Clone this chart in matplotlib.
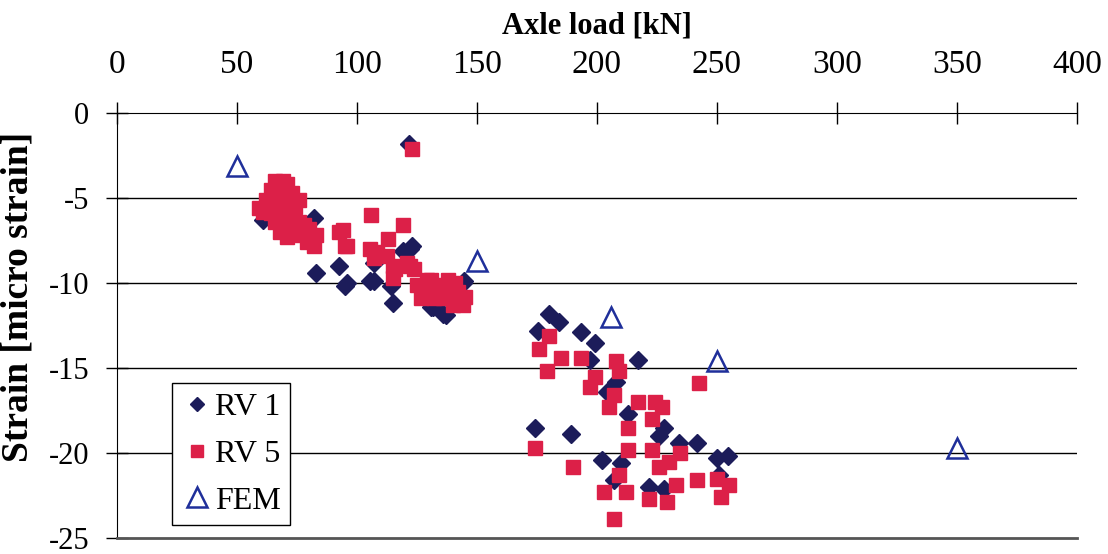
import matplotlib.pyplot as plt

# RV 1 measurements (axle load kN, strain)
rv1_load = [121.5, 60.7, 69, 82, 83, 92.6, 95, 105.6, 107, 115, 114, 122, 119,
            131, 137, 144, 96, 107, 123, 144.5, 131.5, 136,
            180, 184, 175.5, 193.5, 199, 217, 197, 208, 204, 213, 228, 226,
            174, 189, 234, 241.5, 202, 250, 254.5, 210, 207, 221.5, 228, 251]
rv1_strain = [-1.8, -6.3, -5.4, -6.2, -9.4, -9.0, -10.2, -9.9, -8.8, -11.2, -10.2, -8.0, -8.1,
              -11.4, -11.9, -10.0, -10.0, -9.9, -7.8, -9.9, -11.4, -11.8,
              -11.8, -12.3, -12.8, -12.9, -13.5, -14.5, -14.5, -15.8, -16.4, -17.7, -18.5, -19.0,
              -18.5, -18.9, -19.4, -19.4, -20.4, -20.3, -20.2, -20.6, -21.6, -22.0, -22.1, -21.3]

# RV 5 measurements
rv5_load = [66, 69, 71, 64, 67, 70, 73, 76, 62, 65, 68, 71, 74, 59, 61, 64, 67, 70, 73, 76,
            66, 69, 72, 75, 78, 80, 74, 77, 80, 83, 82, 79, 68, 71,
            92.6, 96, 106, 119, 123, 94, 95,
            105.5, 108.5, 113, 112.6, 115, 115, 121, 123.6, 125, 126.5, 131, 133.6, 138,
            136, 142, 144, 132, 128, 140, 107, 116, 122, 129, 141, 145, 135, 138,
            180, 176, 185, 179, 193.5, 208, 209, 199, 197, 207, 205, 217, 224, 227, 242.5,
            223, 213, 213, 174, 223, 234.5, 230, 226, 190, 209, 203, 212, 221.5, 229, 233,
            241.5, 250, 255, 251.7, 207]
rv5_strain = [-4.0, -4.0, -4.2, -4.5, -4.6, -4.7, -4.7, -5.1, -5.1, -5.1, -5.3, -5.3, -5.5, -5.6, -5.8,
              -5.9, -5.9, -6.0, -6.2, -6.4,
              -6.4, -6.6, -6.7, -6.8, -6.6, -6.8, -7.1, -7.2, -7.4, -7.2, -7.8, -7.6, -7.0, -7.3,
              -7.0, -7.8, -6.0, -6.6, -2.1, -6.9, -7.8,
              -8.0, -8.2, -7.4, -8.4, -9.0, -9.7, -8.8, -9.2, -10.1, -10.9, -9.8, -10.1, -9.8,
              -10.9, -10.5, -11.3, -10.9, -10.5, -11.3, -8.5, -9.2, -9.0, -9.8, -10.0, -10.8, -10.4, -10.4,
              -13.1, -13.9, -14.4, -15.2, -14.4, -14.6, -15.2, -15.5, -16.1, -16.6, -17.3, -17.0, -17.0, -17.3, -15.9,
              -18.0, -18.5, -19.8, -19.7, -19.8, -20.0, -20.5, -20.8, -20.8, -21.3, -22.3, -22.3, -22.7, -22.9, -21.9,
              -21.6, -21.5, -21.9, -22.6, -23.9]

# FEM results
fem_load = [50, 150, 206, 250, 350]
fem_strain = [-3.1, -8.7, -12.0, -14.6, -19.7]

plt.rcParams['font.family'] = ['Liberation Serif', 'DejaVu Serif']
plt.rcParams['axes.unicode_minus'] = False

fig = plt.figure(figsize=(11.08, 5.54), dpi=100)
ax = fig.add_axes([0.1056, 0.0289, 0.8664, 0.767])

ax.plot(rv1_load, rv1_strain, 'D', ms=9, color='#1c1c5a', label='RV 1', zorder=3)
ax.plot(rv5_load, rv5_strain, 's', ms=10, color='#dc2048', label='RV 5', zorder=4)
ax.plot(fem_load, fem_strain, '^', ms=15, mfc='none', mec='#1f2f9a', mew=1.8,
        label='FEM', zorder=5)

ax.set_xlim(0, 400)
ax.set_ylim(-25, 0)
ax.set_xticks(range(0, 401, 50))
ax.set_yticks(range(-25, 1, 5))
ax.xaxis.tick_top()
ax.xaxis.set_label_position('top')
ax.tick_params(axis='both', direction='inout', length=16, width=1)
ax.tick_params(axis='x', labelsize=24, pad=16)
ax.tick_params(axis='y', labelsize=22, pad=12)
ax.set_xlabel('Axle load [kN]', fontsize=22, fontweight='bold', labelpad=11)
ax.set_ylabel('Strain [micro strain]', fontsize=27, fontweight='bold')
ax.yaxis.set_label_coords(-0.085, 0.567)

for v in [-5, -10, -15, -20]:
    ax.axhline(v, color='black', lw=1, zorder=1)
ax.spines['right'].set_visible(False)
ax.spines['bottom'].set_color('#555555')
ax.spines['bottom'].set_linewidth(2)

leg = ax.legend(loc='lower left', bbox_to_anchor=(0.057, 0.03), fontsize=23,
                frameon=True, fancybox=False, edgecolor='black', framealpha=1,
                handletextpad=0.05, handlelength=1.0, borderpad=0.3, labelspacing=0.55,
                borderaxespad=0)
leg.get_frame().set_linewidth(1)
for h, s in zip(leg.legend_handles, [7, 9, 15]):
    h.set_markersize(s)

fig.savefig('out.png', dpi=100)
